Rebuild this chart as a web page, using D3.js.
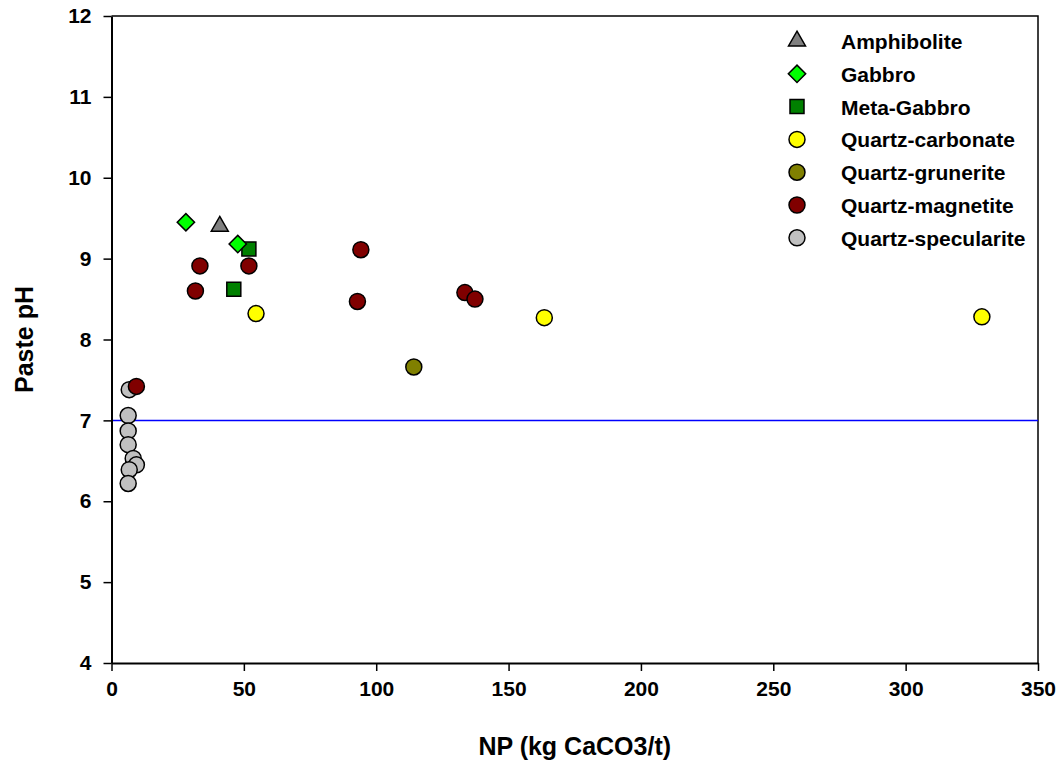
<!DOCTYPE html>
<html>
<head>
<meta charset="utf-8">
<script src="https://cdn.jsdelivr.net/npm/d3@7"></script>
<style>
  body { margin: 0; background: #fff; }
  text { font-family: "Liberation Sans", Arial, sans-serif; font-weight: bold; fill: #000; }
</style>
</head>
<body>
<div id="chart"></div>
<script>
// rock types, in legend order
var categories = ["Amphibolite", "Gabbro", "Meta-Gabbro", "Quartz-carbonate",
                  "Quartz-grunerite", "Quartz-magnetite", "Quartz-specularite"];

// NP (kg CaCO3/t) and paste pH per rock type
var amphiboliteNP = [40.9];
var amphibolitePH = [9.40];
var gabbroNP = [28.1, 47.7];
var gabbroPH = [9.45, 9.18];
var metaGabbroNP = [51.9, 46.2];
var metaGabbroPH = [9.12, 8.62];
var carbonateNP = [54.6, 163.5, 328.8];
var carbonatePH = [8.32, 8.27, 8.28];
var gruneriteNP = [114.2];
var gruneritePH = [7.66];
var magnetiteNP = [9.4, 33.4, 51.9, 31.7, 94.2, 92.9, 133.5, 137.3];
var magnetitePH = [7.42, 8.91, 8.91, 8.60, 9.11, 8.47, 8.58, 8.50];
var specularNP = [6.7, 6.3, 6.3, 6.3, 8.2, 9.4, 6.7, 6.3];
var specularPH = [7.38, 7.06, 6.87, 6.70, 6.53, 6.45, 6.39, 6.22];

var xTicks = [0, 50, 100, 150, 200, 250, 300, 350];
var yTicks = [4, 5, 6, 7, 8, 9, 10, 11, 12];
var neutralPH = 7;

(function drawChart() {
  var series = [
    { name: categories[0], np: amphiboliteNP, ph: amphibolitePH, shape: "triangle", fill: "#808080" },
    { name: categories[1], np: gabbroNP, ph: gabbroPH, shape: "diamond", fill: "#00ff00" },
    { name: categories[2], np: metaGabbroNP, ph: metaGabbroPH, shape: "square", fill: "#008000" },
    { name: categories[3], np: carbonateNP, ph: carbonatePH, shape: "circle", fill: "#ffff00" },
    { name: categories[4], np: gruneriteNP, ph: gruneritePH, shape: "circle", fill: "#808000" },
    { name: categories[5], np: magnetiteNP, ph: magnetitePH, shape: "circle", fill: "#800000" },
    { name: categories[6], np: specularNP, ph: specularPH, shape: "circle", fill: "#c0c0c0" }
  ];

  var width = 1058, height = 777;
  var plotLeft = 111.5, plotRight = 1038, plotTop = 16, plotBottom = 663;

  var x = d3.scaleLinear().domain([0, 350]).range([plotLeft, plotRight]);
  var y = d3.scaleLinear().domain([4, 12]).range([plotBottom, plotTop]);

  var svg = d3.select("#chart").append("svg")
    .attr("width", width)
    .attr("height", height);

  // frame top / right
  svg.append("path")
    .attr("d", `M${plotLeft},${plotTop}H${plotRight}V${plotBottom}`)
    .attr("fill", "none")
    .attr("stroke", "#000")
    .attr("stroke-width", 1.5);

  // neutral pH line
  svg.append("line")
    .attr("x1", plotLeft).attr("x2", plotRight)
    .attr("y1", y(neutralPH)).attr("y2", y(neutralPH))
    .attr("stroke", "#0000ff")
    .attr("stroke-width", 1.5);

  var xAxis = d3.axisBottom(x).tickValues(xTicks).tickSize(8).tickPadding(10).tickSizeOuter(0);
  var yAxis = d3.axisLeft(y).tickValues(yTicks).tickSize(8).tickPadding(12).tickSizeOuter(0);

  var gx = svg.append("g")
    .attr("transform", `translate(0,${plotBottom})`)
    .call(xAxis);
  var gy = svg.append("g")
    .attr("transform", `translate(${plotLeft},0)`)
    .call(yAxis);

  [gx, gy].forEach(function(g) {
    g.select(".domain").attr("stroke-width", 2);
    g.selectAll(".tick line").attr("stroke-width", 1.5);
    g.selectAll(".tick text")
      .attr("font-size", 21)
      .attr("font-family", null)
      .style("font-weight", "bold");
  });
  gx.selectAll(".tick text").attr("dy", "0.71em");

  // axis titles
  svg.append("text")
    .attr("x", (plotLeft + plotRight) / 2)
    .attr("y", 755)
    .attr("text-anchor", "middle")
    .attr("font-size", 25)
    .text("NP (kg CaCO3/t)");

  svg.append("text")
    .attr("transform", `translate(33,${(plotTop + plotBottom) / 2}) rotate(-90)`)
    .attr("text-anchor", "middle")
    .attr("font-size", 25)
    .text("Paste pH");

  // symbols
  var symbolPath = {
    circle: d3.symbol().type(d3.symbolCircle).size(Math.PI * 64)(),
    square: d3.symbol().type(d3.symbolSquare).size(196)(),
    diamond: d3.symbol().type(d3.symbolSquare).size(150)(),
    triangle: d3.symbol().type(d3.symbolTriangle).size(125)()
  };
  function symbolTransform(shape, px, py) {
    return `translate(${px},${py})` + (shape === "diamond" ? " rotate(45)" : "");
  }

  // drawn in reverse legend order so the overlaps match
  var points = svg.append("g").attr("class", "points");
  series.slice().reverse().forEach(function(s) {
    points.append("g")
      .selectAll("path")
      .data(s.np.map(function(v, i) { return { np: v, ph: s.ph[i] }; }))
      .enter().append("path")
      .attr("d", symbolPath[s.shape])
      .attr("transform", d => symbolTransform(s.shape, x(d.np), y(d.ph)))
      .attr("fill", s.fill)
      .attr("stroke", "#000")
      .attr("stroke-width", 1.5);
  });

  // legend
  var legend = svg.append("g").attr("class", "legend");
  var rows = legend.selectAll("g")
    .data(series).enter()
    .append("g")
    .attr("transform", (d, i) => `translate(797,${41 + i * 32.8})`);

  rows.append("path")
    .attr("d", d => symbolPath[d.shape])
    .attr("transform", d => symbolTransform(d.shape, 0, 0))
    .attr("fill", d => d.fill)
    .attr("stroke", "#000")
    .attr("stroke-width", 1.5);

  rows.append("text")
    .attr("x", 44)
    .attr("y", 8)
    .attr("font-size", 21)
    .text(d => d.name);
})();
</script>
</body>
</html>
